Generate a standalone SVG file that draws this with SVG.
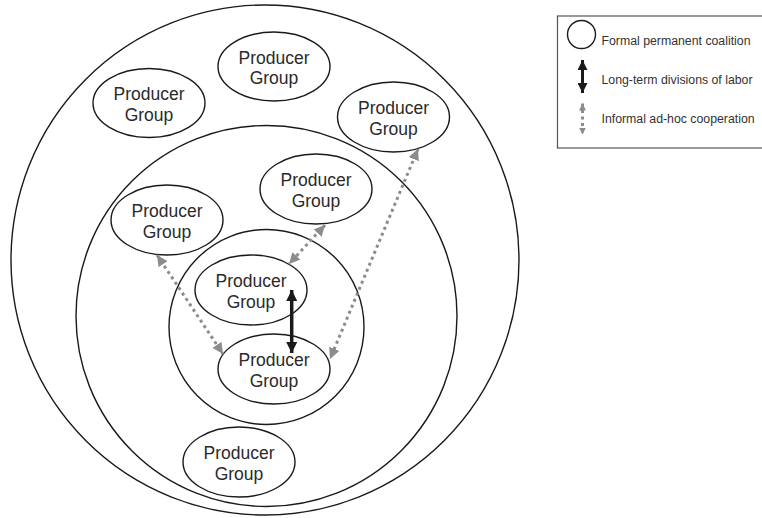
<svg xmlns="http://www.w3.org/2000/svg" width="762" height="518" viewBox="0 0 762 518">
  <style>
    .ring { fill: none; stroke: #1a1a1a; stroke-width: 1.4; }
    .pg { fill: #ffffff; stroke: #1a1a1a; stroke-width: 1.4; }
    .pg-label { font-family: "Liberation Sans", Arial, sans-serif; font-size: 17.5px; fill: #2a2a2a; text-anchor: middle; }
    .coop { fill: none; stroke: #8c8c8c; stroke-width: 3; stroke-dasharray: 3 3.5; marker-start: url(#gray-head); marker-end: url(#gray-head); }
    .labor { fill: none; stroke: #1a1a1a; stroke-width: 3.5; marker-start: url(#black-head); marker-end: url(#black-head); }
    .legend-box { fill: #ffffff; stroke: #555555; stroke-width: 1.2; }
    .legend-text { font-family: "Liberation Sans", Arial, sans-serif; font-size: 12.3px; fill: #333333; }
  </style>
  <defs>
    <marker id="gray-head" viewBox="0 0 10 10" refX="10" refY="5" markerWidth="11" markerHeight="11" markerUnits="userSpaceOnUse" orient="auto-start-reverse">
      <path d="M0,0 L10,5 L0,10 Z" fill="#8c8c8c"/>
    </marker>
    <marker id="black-head" viewBox="0 0 10 10" refX="10" refY="5" markerWidth="11" markerHeight="11" markerUnits="userSpaceOnUse" orient="auto-start-reverse">
      <path d="M0,0 L10,5 L0,10 Z" fill="#1a1a1a"/>
    </marker>
    <marker id="gray-head-small" viewBox="0 0 10 10" refX="10" refY="5" markerWidth="7" markerHeight="7" markerUnits="userSpaceOnUse" orient="auto-start-reverse">
      <path d="M0,0 L10,5 L0,10 Z" fill="#8c8c8c"/>
    </marker>
    <marker id="black-head-small" viewBox="0 0 10 10" refX="10" refY="5" markerWidth="10" markerHeight="10" markerUnits="userSpaceOnUse" orient="auto-start-reverse">
      <path d="M0,0 L10,5 L0,10 Z" fill="#1a1a1a"/>
    </marker>
  </defs>

  <!-- nested coalitions -->
  <g id="coalition-outer"><ellipse class="ring" cx="265" cy="260" rx="254" ry="255"/></g>
  <g id="coalition-middle"><circle class="ring" cx="266.5" cy="316" r="190.5"/></g>
  <g id="coalition-inner"><circle class="ring" cx="266.5" cy="327" r="97.5"/></g>

  <!-- producer groups -->
  <g id="pg-top">
    <ellipse class="pg" cx="274" cy="66.5" rx="56" ry="34.5"/>
    <text class="pg-label" x="274" y="63.5">Producer</text>
    <text class="pg-label" x="274" y="84">Group</text>
  </g>
  <g id="pg-top-left">
    <ellipse class="pg" cx="149" cy="103" rx="56" ry="34.5"/>
    <text class="pg-label" x="149" y="100">Producer</text>
    <text class="pg-label" x="149" y="120.5">Group</text>
  </g>
  <g id="pg-top-right">
    <ellipse class="pg" cx="393.5" cy="117" rx="56" ry="35"/>
    <text class="pg-label" x="393.5" y="114">Producer</text>
    <text class="pg-label" x="393.5" y="134.5">Group</text>
  </g>
  <g id="pg-mid-right">
    <ellipse class="pg" cx="316" cy="189" rx="56" ry="35"/>
    <text class="pg-label" x="316" y="186">Producer</text>
    <text class="pg-label" x="316" y="206.5">Group</text>
  </g>
  <g id="pg-mid-left">
    <ellipse class="pg" cx="167" cy="220" rx="56" ry="35"/>
    <text class="pg-label" x="167" y="217">Producer</text>
    <text class="pg-label" x="167" y="237.5">Group</text>
  </g>
  <g id="pg-core-top">
    <ellipse class="pg" cx="251" cy="290" rx="56" ry="35"/>
    <text class="pg-label" x="251" y="287">Producer</text>
    <text class="pg-label" x="251" y="307.5">Group</text>
  </g>
  <g id="pg-core-bottom">
    <ellipse class="pg" cx="274" cy="369" rx="56" ry="35"/>
    <text class="pg-label" x="274" y="366">Producer</text>
    <text class="pg-label" x="274" y="386.5">Group</text>
  </g>
  <g id="pg-bottom">
    <ellipse class="pg" cx="239" cy="462" rx="56" ry="35"/>
    <text class="pg-label" x="239" y="459">Producer</text>
    <text class="pg-label" x="239" y="479.5">Group</text>
  </g>

  <!-- connectors -->
  <g id="connectors">
    <path class="coop" d="M157,255 L223,354"/>
    <path class="coop" d="M325,225 L289,264"/>
    <path class="coop" d="M418,149 L330,359"/>
    <path class="labor" d="M291.7,290 L291.7,353"/>
  </g>

  <!-- legend -->
  <g id="legend">
    <rect class="legend-box" x="557.5" y="16" width="220" height="132"/>
    <circle class="ring" cx="581.5" cy="34.5" r="14"/>
    <text class="legend-text" x="601.5" y="45">Formal permanent coalition</text>
    <path d="M582.5,60 L582.5,93" fill="none" stroke="#1a1a1a" stroke-width="3" marker-start="url(#black-head-small)" marker-end="url(#black-head-small)"/>
    <text class="legend-text" x="601.5" y="84.3">Long-term divisions of labor</text>
    <path d="M582.5,103.5 L582.5,134.5" fill="none" stroke="#8c8c8c" stroke-width="3" stroke-dasharray="3 3.5" marker-start="url(#gray-head-small)" marker-end="url(#gray-head-small)"/>
    <text class="legend-text" x="601.5" y="122.7">Informal ad-hoc cooperation</text>
  </g>
</svg>
